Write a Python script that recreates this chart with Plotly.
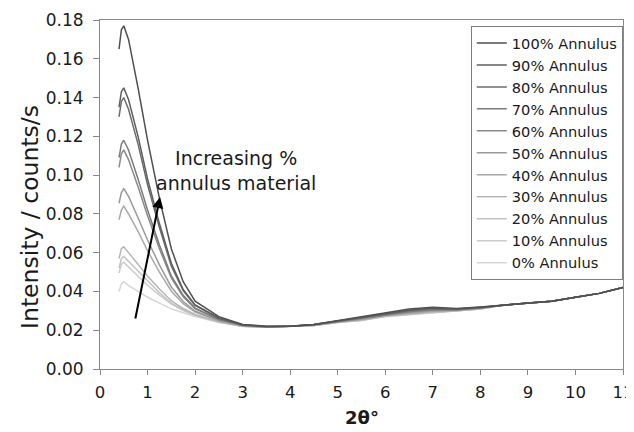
import plotly.graph_objects as go

two_theta = [0.40, 0.45, 0.50, 0.60, 0.80, 1.00, 1.25, 1.50, 1.75, 2.00, 2.50, 3.00, 3.50, 4.00,
             4.50, 5.00, 5.50, 6.00, 6.50, 7.00, 7.50, 8.00, 8.50, 9.00, 9.50, 10.00, 10.50, 11.00]

tail = [0.034, 0.035, 0.037, 0.039, 0.042]

s100 = [0.165, 0.175, 0.177, 0.170, 0.145, 0.118, 0.088, 0.062, 0.045, 0.035, 0.027, 0.023, 0.0220, 0.0220,
        0.0230, 0.0250, 0.0270, 0.0290, 0.0310, 0.0318, 0.0312, 0.0320, 0.0330] + tail
s90 = [0.135, 0.143, 0.145, 0.139, 0.120, 0.098, 0.075, 0.0545, 0.041, 0.033, 0.0263, 0.0228, 0.0219, 0.0220,
       0.0229, 0.0248, 0.0265, 0.0285, 0.0303, 0.0313, 0.0309, 0.0318, 0.0330] + tail
s80 = [0.130, 0.138, 0.140, 0.134, 0.116, 0.095, 0.073, 0.053, 0.0405, 0.0328, 0.0262, 0.0227, 0.0219, 0.0220,
       0.0229, 0.0247, 0.0264, 0.0284, 0.0302, 0.0312, 0.0308, 0.0317, 0.0330] + tail
s70 = [0.109, 0.116, 0.118, 0.113, 0.098, 0.082, 0.064, 0.048, 0.038, 0.0314, 0.0257, 0.0226, 0.0218, 0.0220,
       0.0228, 0.0246, 0.0261, 0.0280, 0.0297, 0.0307, 0.0305, 0.0315, 0.0330] + tail
s60 = [0.104, 0.111, 0.113, 0.108, 0.094, 0.079, 0.062, 0.047, 0.0372, 0.0311, 0.0255, 0.0225, 0.0218, 0.0220,
       0.0228, 0.0245, 0.0260, 0.0279, 0.0295, 0.0305, 0.0305, 0.0315, 0.0330] + tail
s50 = [0.0855, 0.091, 0.093, 0.089, 0.078, 0.0665, 0.0537, 0.0423, 0.0348, 0.0299, 0.0251, 0.0224, 0.0217, 0.0220,
       0.0227, 0.0244, 0.0257, 0.0277, 0.0291, 0.0301, 0.0304, 0.0314, 0.0330] + tail
s40 = [0.077, 0.082, 0.084, 0.080, 0.071, 0.061, 0.050, 0.0401, 0.0337, 0.0294, 0.0249, 0.0223, 0.0216, 0.0220,
       0.0226, 0.0243, 0.0256, 0.0276, 0.0289, 0.0299, 0.0303, 0.0313, 0.0330] + tail
s30 = [0.057, 0.062, 0.063, 0.060, 0.054, 0.048, 0.0413, 0.0352, 0.0312, 0.0281, 0.0244, 0.0221, 0.0216, 0.0220,
       0.0225, 0.0241, 0.0253, 0.0273, 0.0284, 0.0294, 0.0301, 0.0311, 0.0330] + tail
s20 = [0.052, 0.057, 0.058, 0.0555, 0.050, 0.045, 0.0393, 0.0340, 0.0306, 0.0278, 0.0243, 0.0221, 0.0215, 0.0220,
       0.0225, 0.0241, 0.0252, 0.0272, 0.0283, 0.0293, 0.0301, 0.0311, 0.0330] + tail
s10 = [0.0495, 0.054, 0.055, 0.0527, 0.048, 0.0432, 0.0381, 0.0334, 0.0302, 0.0276, 0.0242, 0.0221, 0.0215, 0.0220,
       0.0225, 0.0240, 0.0252, 0.0272, 0.0282, 0.0292, 0.0300, 0.0310, 0.0330] + tail
s0 = [0.040, 0.044, 0.045, 0.043, 0.040, 0.037, 0.034, 0.031, 0.029, 0.027, 0.024, 0.022, 0.0215, 0.0220,
      0.0225, 0.0240, 0.0250, 0.0270, 0.0280, 0.0290, 0.0300, 0.0310, 0.0330] + tail

names = ["0% Annulus", "10% Annulus", "20% Annulus", "30% Annulus", "40% Annulus", "50% Annulus",
         "60% Annulus", "70% Annulus", "80% Annulus", "90% Annulus", "100% Annulus"]
series = [s0, s10, s20, s30, s40, s50, s60, s70, s80, s90, s100]
colors = ["#d6d6d6", "#cccccc", "#c2c2c2", "#b6b6b6", "#a8a8a8", "#999999",
          "#8a8a8a", "#7b7b7b", "#6c6c6c", "#5e5e5e", "#4f4f4f"]

y_ticks = [0.00, 0.02, 0.04, 0.06, 0.08, 0.10, 0.12, 0.14, 0.16, 0.18]
x_ticks = list(range(0, 12))

FONT = "DejaVu Sans"
TXT = "#1a1a1a"

fig = go.Figure()
for name, ys, c in zip(names, series, colors):
    fig.add_trace(go.Scatter(x=two_theta, y=ys, mode="lines", name=name,
                             line=dict(color=c, width=1.5)))

fig.add_annotation(x=1.263, y=0.0887, ax=0.737, ay=0.0253, xref="x", yref="y", axref="x", ayref="y",
                   text="", showarrow=True, arrowhead=2, arrowsize=1.1, arrowwidth=2, arrowcolor="#000000")
fig.add_annotation(x=2.85, y=0.1026, xref="x", yref="y", showarrow=False,
                   text="Increasing %<br>annulus material",
                   font=dict(family=FONT, size=19, color=TXT), align="center")
fig.add_annotation(x=-0.134, y=0.4355, xref="paper", yref="paper", showarrow=False, textangle=-90,
                   xanchor="center", yanchor="middle",
                   text="Intensity / counts/s", font=dict(family=FONT, size=23.5, color=TXT))
fig.add_annotation(x=0.5, y=-0.14, xref="paper", yref="paper", showarrow=False,
                   xanchor="center", yanchor="middle",
                   text="<b>2θ°</b>", font=dict(family=FONT, size=18, color=TXT))

# page body adds an 8px offset; figure sized so that plot area lands at x 100-623, y 20-369
fig.update_layout(
    width=634, height=424,
    margin=dict(l=92, r=19, t=12, b=63),
    paper_bgcolor="white", plot_bgcolor="white",
    font=dict(family=FONT, color=TXT),
    showlegend=True,
    legend=dict(x=0.709, y=0.983, xanchor="left", yanchor="top",
                traceorder="reversed", bordercolor="#7f7f7f", borderwidth=1,
                bgcolor="white", font=dict(family=FONT, size=14.6, color=TXT),
                itemwidth=30, tracegroupgap=0),
)
fig.update_xaxes(range=[0, 11], tickvals=x_ticks, ticks="outside", ticklen=5, tickcolor="#888888",
                 showline=True, linecolor="#888888", linewidth=1, mirror=True, showgrid=False, zeroline=False,
                 automargin=False, ticklabelstandoff=3,
                 tickfont=dict(family=FONT, size=16.5, color=TXT))
fig.update_yaxes(range=[0, 0.18], tickvals=y_ticks, tickformat=".2f", ticks="outside", ticklen=6,
                 tickcolor="#888888", showline=True, linecolor="#888888", linewidth=1, mirror=True,
                 showgrid=False, zeroline=False, automargin=False, ticklabelstandoff=6,
                 tickfont=dict(family=FONT, size=17, color=TXT))

fig.write_html("out.html")
